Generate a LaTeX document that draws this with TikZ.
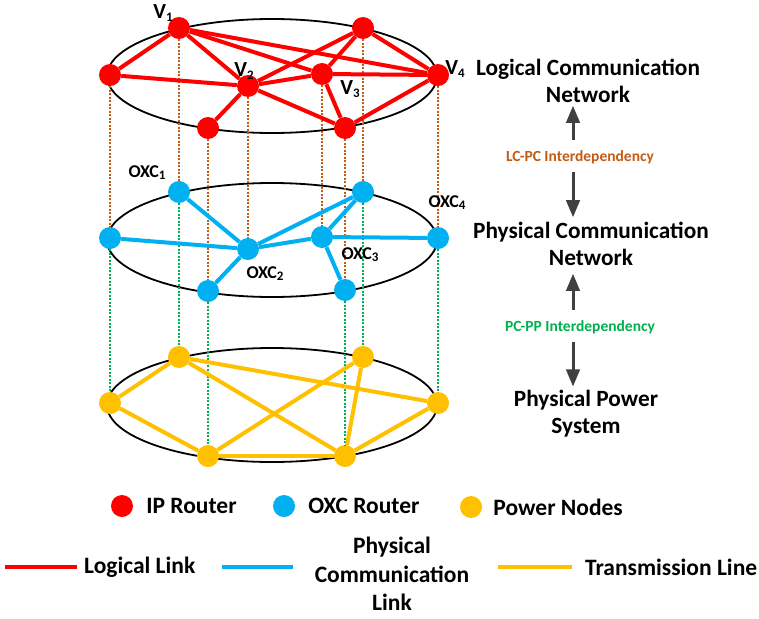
\documentclass[tikz,border=0pt]{standalone}
\usepackage{fontspec}
\setmainfont{Carlito}
\usetikzlibrary{shapes,arrows,positioning}
\definecolor{iprd}{HTML}{FF0000}
\definecolor{oxcbl}{HTML}{00B0F0}
\definecolor{pwyl}{HTML}{FFC000}
\definecolor{lcpc}{HTML}{C55A11}
\definecolor{pcpp}{HTML}{00B050}
\definecolor{arrgray}{HTML}{404040}
\newcommand{\lowdig}[1]{\raisebox{-0.12em}{\fontsize{13}{13}\selectfont #1}}
\tikzstyle{iprouter} = [circle, fill=iprd, inner sep=0pt, minimum size=22pt]
\tikzstyle{oxcrouter} = [circle, fill=oxcbl, inner sep=0pt, minimum size=22pt]
\tikzstyle{pwnode} = [circle, fill=pwyl, inner sep=0pt, minimum size=22pt]
\tikzstyle{loglink} = [draw=iprd, line width=4pt]
\tikzstyle{phylink} = [draw=oxcbl, line width=4pt]
\tikzstyle{trline} = [draw=pwyl, line width=4pt]
\tikzstyle{lcdash} = [draw=lcpc, line width=1.2pt, dash pattern=on 2pt off 1.5pt]
\tikzstyle{pcdash} = [draw=pcpp, line width=1.2pt, dash pattern=on 2pt off 1.5pt]
\tikzstyle{layer} = [draw, line width=1.8pt]
\tikzstyle{title} = [font=\bfseries\fontsize{23.3}{27}\selectfont, align=center, inner sep=0pt]
\tikzstyle{deplabel} = [font=\bfseries\fontsize{15.5}{18}\selectfont, inner sep=0pt]
\tikzstyle{dep} = [draw=arrgray, line width=3pt, -triangle 45]
\tikzstyle{vlabel} = [font=\bfseries\fontsize{21.5}{22}\selectfont, inner sep=0pt]
\tikzstyle{oxclabel} = [font=\bfseries\fontsize{18}{20}\selectfont, inner sep=0pt]
\tikzstyle{legtext} = [font=\bfseries\fontsize{23.5}{28.5}\selectfont, align=center, inner sep=0pt]

\begin{document}
\begin{tikzpicture}[x=1pt, y=-1pt, node distance=10pt, auto]
	\useasboundingbox (0,0) rectangle (759,618);

	\draw [layer] (272,76) ellipse [x radius=165, y radius=57];
	\draw [layer] (272,240) ellipse [x radius=165, y radius=57];
	\draw [layer] (272,405) ellipse [x radius=165, y radius=57];

	\node [iprouter] (v1) at (179,28) {};
	\node [iprouter] (v2) at (248,86) {};
	\node [iprouter] (v3) at (322,74) {};
	\node [iprouter] (v4) at (438,75) {};
	\node [iprouter] (v5) at (110,75) {};
	\node [iprouter] (v6) at (363,28) {};
	\node [iprouter] (v7) at (208,128) {};
	\node [iprouter] (v8) at (345,128) {};

	\node [oxcrouter] (oxc1) at (179,192) {};
	\node [oxcrouter] (oxc2) at (248,249) {};
	\node [oxcrouter] (oxc3) at (322,237) {};
	\node [oxcrouter] (oxc4) at (438,238) {};
	\node [oxcrouter] (oxc5) at (110,238) {};
	\node [oxcrouter] (oxc6) at (363,192) {};
	\node [oxcrouter] (oxc7) at (208,291) {};
	\node [oxcrouter] (oxc8) at (345,290) {};

	\node [pwnode] (pw1) at (179,357) {};
	\node [pwnode] (pw4) at (438,403) {};
	\node [pwnode] (pw5) at (110,403) {};
	\node [pwnode] (pw6) at (363,357) {};
	\node [pwnode] (pw7) at (208,456) {};
	\node [pwnode] (pw8) at (345,456) {};

	\path [lcdash] (v1) -- (oxc1);
	\path [lcdash] (v2) -- (oxc2);
	\path [lcdash] (v3) -- (oxc3);
	\path [lcdash] (v4) -- (oxc4);
	\path [lcdash] (v5) -- (oxc5);
	\path [lcdash] (v6) -- (oxc6);
	\path [lcdash] (v7) -- (oxc7);
	\path [lcdash] (v8) -- (oxc8);

	\path [pcdash] (oxc1) -- (pw1);
	\path [pcdash] (oxc4) -- (pw4);
	\path [pcdash] (oxc5) -- (pw5);
	\path [pcdash] (oxc6) -- (pw6);
	\path [pcdash] (oxc7) -- (pw7);
	\path [pcdash] (oxc8) -- (pw8);

	\path [loglink] (v1) -- (v5);
	\path [loglink] (v5) -- (v2);
	\path [loglink] (v1) -- (v2);
	\path [loglink] (v1) -- (v3);
	\path [loglink] (v1) -- (v4);
	\path [loglink] (v6) -- (v2);
	\path [loglink] (v6) -- (v3);
	\path [loglink] (v6) -- (v4);
	\path [loglink] (v2) -- (v3);
	\path [loglink] (v3) -- (v4);
	\path [loglink] (v3) -- (v8);
	\path [loglink] (v2) -- (v8);
	\path [loglink] (v4) -- (v8);
	\path [loglink] (v2) -- (v7);

	\path [phylink] (oxc1) -- (oxc2);
	\path [phylink] (oxc5) -- (oxc2);
	\path [phylink] (oxc2) -- (oxc6);
	\path [phylink] (oxc2) -- (oxc3);
	\path [phylink] (oxc2) -- (oxc7);
	\path [phylink] (oxc6) -- (oxc3);
	\path [phylink] (oxc3) -- (oxc4);
	\path [phylink] (oxc3) -- (oxc8);

	\path [trline] (pw1) -- (pw5);
	\path [trline] (pw5) -- (pw7);
	\path [trline] (pw1) -- (pw8);
	\path [trline] (pw1) -- (pw4);
	\path [trline] (pw7) -- (pw6);
	\path [trline] (pw7) -- (pw8);
	\path [trline] (pw6) -- (pw8);
	\path [trline] (pw8) -- (pw4);

	\node [vlabel] (v1lbl) at (163,13) {V\lowdig{1}};
	\node [vlabel] (v2lbl) at (244,71) {V\lowdig{2}};
	\node [vlabel] (v3lbl) at (350,89) {V\lowdig{3}};
	\node [vlabel] (v4lbl) at (455,69) {V\lowdig{4}};

	\node [oxclabel] (oxc1lbl) at (147,173) {OXC\lowdig{1}};
	\node [oxclabel] (oxc2lbl) at (265,274) {OXC\lowdig{2}};
	\node [oxclabel] (oxc3lbl) at (360,255) {OXC\lowdig{3}};
	\node [oxclabel] (oxc4lbl) at (447,203) {OXC\lowdig{4}};

	\node [title] (lcnet) at (588,81) {Logical Communication\\Network};
	\node [deplabel, text=lcpc] (lcpcdep) at (580,157) {LC-PC Interdependency};
	\node [title] (pcnet) at (591,244) {Physical Communication\\Network};
	\node [deplabel, text=pcpp] (pcppdep) at (580,327) {PC-PP Interdependency};
	\node [title] (ppsys) at (586,414) {Physical Power\\System};

	\coordinate (axis) at (573,0);
	\path [dep, shorten <=10pt, shorten >=3pt] (axis |- lcpcdep.north) -- (axis |- lcnet.south);
	\path [dep, shorten <=8pt, shorten >=5pt] (axis |- lcpcdep.south) -- (axis |- pcnet.north);
	\path [dep, shorten <=10pt, shorten >=8pt] (axis |- pcppdep.north) -- (axis |- pcnet.south);
	\path [dep, shorten <=8pt, shorten >=4pt] (axis |- pcppdep.south) -- (axis |- ppsys.north);

	\node [iprouter] (ipkey) at (122,506) {};
	\node [legtext, right=13pt of ipkey] (iptext) {IP Router};
	\node [oxcrouter] (oxckey) at (284,506) {};
	\node [legtext, right=13pt of oxckey] (oxctext) {OXC Router};
	\node [pwnode] (pwkey) at (471,507) {};
	\node [legtext, right=11pt of pwkey] (pwtext) {Power Nodes};

	\coordinate (logkey) at (77,567);
	\draw [loglink] (5,567) -- (logkey);
	\node [legtext, right=7pt of logkey] (logtext) {Logical Link};
	\draw [phylink] (222,567) -- (293,567);
	\node [legtext] (phytext) at (392,574) {Physical\\Communication\\Link};
	\coordinate (trkey) at (572,567);
	\draw [trline] (498,567) -- (trkey);
	\node [legtext, right=13pt of trkey] (trtext) {Transmission Line};
\end{tikzpicture}
\end{document}
